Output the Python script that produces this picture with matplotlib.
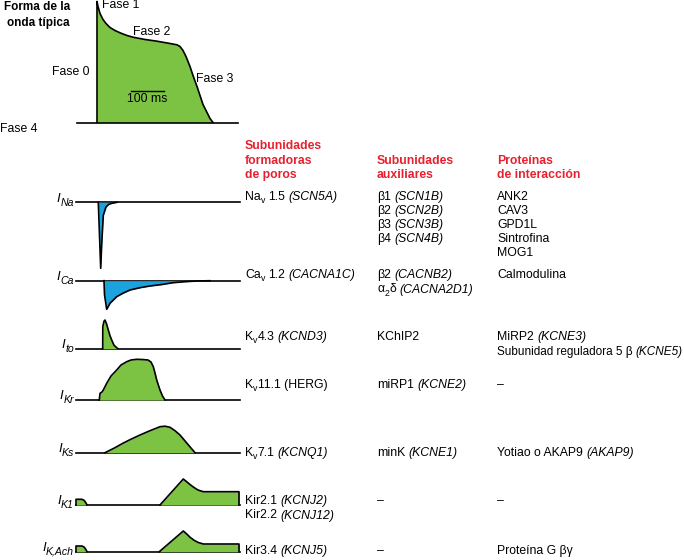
import re
import matplotlib
matplotlib.use('Agg')
import matplotlib.pyplot as plt

plt.rcParams['font.family'] = ['Liberation Sans', 'DejaVu Sans']

GREEN = '#7cc243'
BLUE = '#1ca3dd'
RED = '#e8202f'

# ---------------- data ----------------
# Typical action potential (time in px-units, amplitude above rest)
ap_t = [97, 97, 98, 100, 103, 106, 110, 115, 120, 127, 133, 145, 157, 170, 177,
        180, 183, 186, 190, 193, 197, 200, 203, 207, 210, 213]
ap_v = [0, 121, 116, 109, 103, 99, 95, 92, 89.7, 87, 85.3, 83, 81.3, 79, 77.7,
        76, 72, 66, 56, 47, 36, 27, 18, 10, 4, 0]
phase_labels = ['Fase 0', 'Fase 1', 'Fase 2', 'Fase 3', 'Fase 4']

# markup: [..] italic, {..} subscript, <..> italic subscript
current_names = ['[I]<Na>', '[I]<Ca>', '[I]<to>', '[I]<Kr>', '[I]<Ks>', '[I]<K1>', '[I]<K,Ach>']

# each current: list of pieces (t, amplitude); negative = inward
ina_t = [98.3, 100.7, 101.8, 103.3, 106, 108.5, 111.7, 117]
ina_a = [0, -66, -40, -13, -4.7, -2.2, -1, 0]

ica_t = [104, 104.5, 106.7, 110, 116.7, 123, 130, 140, 150, 162, 173, 185, 197, 210]
ica_a = [0, -14, -28.6, -22.6, -16, -12.5, -9.3, -7, -5.3, -3.8, -2, -1, -0.3, 0]

ito_t = [102.7, 102.8, 104, 105, 106.5, 108.3, 110, 111.7, 114, 116.7, 118]
ito_a = [0, 22, 27.5, 28.7, 25, 18.7, 13, 8.7, 3.5, 1, 0]

ikr_t = [99.3, 100, 102, 103.3, 106.7, 111, 116.7, 121, 126.7, 131, 136.7, 142,
         148, 151, 153.3, 155, 156.7, 160, 162.5, 165]
ikr_a = [0, 6.7, 8, 10, 16.7, 24, 30, 35, 38.3, 40, 40.7, 40.5, 40, 38, 33.3,
         27, 20, 10, 4, 0]

iks_t = [105, 115, 123, 131, 140, 150, 160, 165, 170, 175, 180, 187, 195]
iks_a = [0, 5, 9.5, 13.5, 17.7, 22, 26, 26.5, 25.4, 22, 17.7, 9.4, 0]

ik1_early_t = [76, 76, 82, 84.3, 86, 87]
ik1_early_a = [0, 5.7, 5.7, 4.5, 2, 0]
ik1_late_t = [160, 183.3, 187, 190, 194, 198, 203.3, 239, 239]
ik1_late_a = [0, 26, 23, 20.5, 17.5, 15, 13.3, 13.3, 0]

ikach_early_t = [76, 76, 82, 84.3, 86, 87]
ikach_early_a = [0, 5.7, 5.7, 4.5, 2, 0]
ikach_late_t = [159.3, 183.3, 187, 190, 194, 198, 203.3, 239, 239]
ikach_late_a = [0, 20.7, 17.5, 14.5, 11.5, 9.3, 7.7, 7.7, 0]

currents = [
    [(ina_t, ina_a)],
    [(ica_t, ica_a)],
    [(ito_t, ito_a)],
    [(ikr_t, ikr_a)],
    [(iks_t, iks_a)],
    [(ik1_early_t, ik1_early_a), (ik1_late_t, ik1_late_a)],
    [(ikach_early_t, ikach_early_a), (ikach_late_t, ikach_late_a)],
]
current_colors = [BLUE, BLUE, GREEN, GREEN, GREEN, GREEN, GREEN]

headers = [
    ['Subunidades', 'formadoras', 'de poros'],
    ['Subunidades', 'auxiliares'],
    ['Proteínas', 'de interacción'],
]

pore_lines = [
    ['Na{v} 1.5 [(SCN5A)]'],
    ['Ca{v} 1.2 [(CACNA1C)]'],
    ['K{v}4.3 [(KCND3)]'],
    ['K{v}11.1 (HERG)'],
    ['K{v}7.1 [(KCNQ1)]'],
    ['Kir2.1 [(KCNJ2)]', 'Kir2.2 [(KCNJ12)]'],
    ['Kir3.4 [(KCNJ5)]'],
]
aux_lines = [
    ['β1 [(SCN1B)]', 'β2 [(SCN2B)]', 'β3 [(SCN3B)]', 'β4 [(SCN4B)]'],
    ['β2 [(CACNB2)]', 'α{2}δ [(CACNA2D1)]'],
    ['KChIP2'],
    ['miRP1 [(KCNE2)]'],
    ['minK [(KCNE1)]'],
    ['–'],
    ['–'],
]
int_lines = [
    ['ANK2', 'CAV3', 'GPD1L', 'Sintrofina', 'MOG1'],
    ['Calmodulina'],
    ['MiRP2 [(KCNE3)]', 'Subunidad reguladora 5 β [(KCNE5)]'],
    ['–'],
    ['Yotiao o AKAP9 [(AKAP9)]'],
    ['–'],
    ['Proteína G βγ'],
]

# ---------------- layout ----------------
fig = plt.figure(figsize=(6.84, 5.6), dpi=100)
ax = fig.add_axes([0, 0, 1, 1])
ax.set_xlim(0, 684)
ax.set_ylim(560, 0)
ax.axis('off')
renderer = fig.canvas.get_renderer()

LW = 1.2
FS = 8.8

TOKEN = re.compile(r'(\[[^\]]*\]|\{[^}]*\}|<[^>]*>|[^\[{<]+)')


def parse(s):
    out = []
    for tok in TOKEN.findall(s):
        if tok.startswith('['):
            out.append((tok[1:-1], 'italic', False))
        elif tok.startswith('{'):
            out.append((tok[1:-1], 'normal', True))
        elif tok.startswith('<'):
            out.append((tok[1:-1], 'italic', True))
        else:
            out.append((tok, 'normal', False))
    return out


def _w(s, **kw):
    t = ax.text(0, 0, s, **kw)
    w = t.get_window_extent(renderer).width
    t.remove()
    return w


def space_w(**kw):
    return _w('| |', **kw) - _w('||', **kw)


def rich(x, y, s, fs=FS, sub_scale=0.72, sub_shift=3.0, draw=True, **kw):
    """draw markup string with baseline at y, starting at x; return width"""
    x0 = x
    for text, style, sub in parse(s):
        size = fs * sub_scale if sub else fs
        props = dict(fontsize=size, fontstyle=style, **kw)
        lead = len(text) - len(text.lstrip(' '))
        trail = len(text) - len(text.rstrip(' '))
        core = text.strip(' ')
        sw = space_w(**props)
        x += lead * sw
        if core:
            yy = y + (sub_shift if sub else 0)
            if draw:
                ax.text(x, yy, core, ha='left', va='baseline', **props)
            x += _w(core, **props)
        x += trail * sw
    return x - x0


# action potential
ap_base = 122.5
ax.fill_between(ap_t, ap_base, [ap_base - v for v in ap_v], color=GREEN, lw=0)
ax.plot(ap_t, [ap_base - v for v in ap_v], color='k', lw=LW, solid_joinstyle='round')
ax.plot([77, 238], [ap_base, ap_base], color='k', lw=LW)
ax.plot([131, 164], [90.7, 90.7], color='k', lw=1.0)
ax.text(147, 99.5, '100 ms', fontsize=FS, ha='center', va='center')

ax.text(70, 7.5, 'Forma de la', fontsize=8.5, fontweight='bold', ha='right', va='center')
ax.text(70, 22.7, 'onda típica', fontsize=8.5, fontweight='bold', ha='right', va='center')
phase_pos = [(51.5, 71.7), (101.5, 5), (133.3, 32.3), (196.5, 79), (0, 129)]
for lab, (px, py) in zip(phase_labels, phase_pos):
    ax.text(px, py, lab, fontsize=FS, ha='left', va='center')

# ionic currents
bases = [202.3, 280.7, 348.7, 400, 452.7, 505, 551.7]
for name, pieces, col, b in zip(current_names, currents, current_colors, bases):
    ax.plot([76, 240], [b, b], color='k', lw=LW, zorder=1)
    for t, a in pieces:
        y = [b - v for v in a]
        ax.fill_between(t, b, y, color=col, lw=0, zorder=2)
        ax.plot(t, y, color='k', lw=LW, zorder=3, solid_joinstyle='round')
    wl = rich(0, 0, name, fs=9.5, sub_scale=0.8, draw=False)
    rich(74 - wl, b - 0.8, name, fs=9.5, sub_scale=0.8, sub_shift=4.0)

# table
col_x = [245, 377, 497]
head_y = [145, 159.3, 173.3]
for cx, lines in zip(col_x, headers):
    off = 3 - len(lines)
    for i, s in enumerate(lines):
        ax.text(cx, head_y[i + off] + 4.4, s, fontsize=FS, fontweight='bold',
                color=RED, ha='left', va='baseline')

row_y = [195.7, 274, 336, 383.3, 451.7, 500, 550]
DY = 14.1
for cx, col in zip(col_x, [pore_lines, aux_lines, int_lines]):
    for ry, lines in zip(row_y, col):
        for i, s in enumerate(lines):
            fs = FS
            w = rich(0, 0, s, fs=fs, draw=False)
            while cx + w > 683 and fs > 6:
                fs -= 0.1
                w = rich(0, 0, s, fs=fs, draw=False)
            rich(cx, ry + i * DY + 4.4, s, fs=fs)

fig.savefig('out.png', dpi=100)
